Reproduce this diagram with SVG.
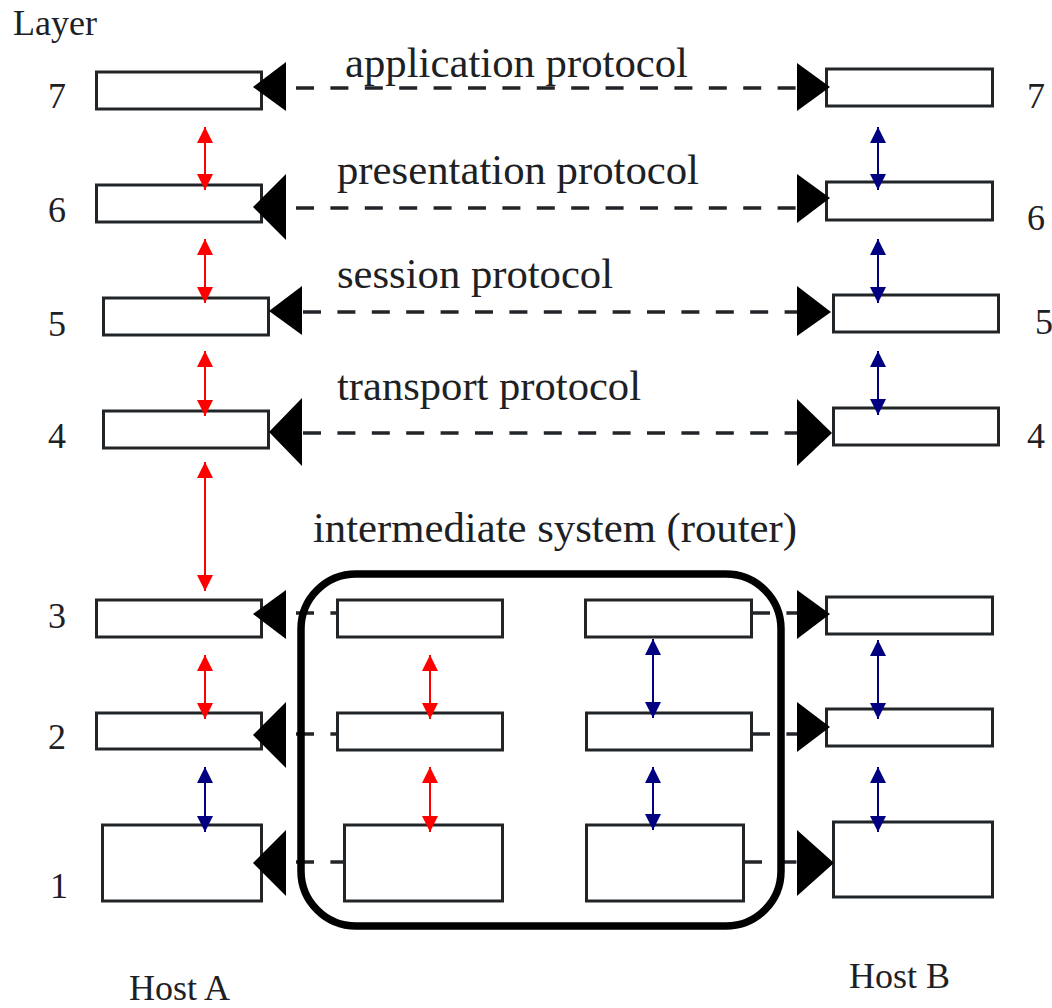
<svg xmlns="http://www.w3.org/2000/svg" width="1052" height="1008" viewBox="0 0 1052 1008">
<defs>
<style>
.box{fill:#fff;stroke:#222528;stroke-width:3}
.lbl{font-family:"Liberation Serif","Times New Roman",serif;fill:#1e2124}
.num{font-size:36px}
.proto{font-size:42px}
.dash{stroke:#222528;stroke-width:3.5;stroke-dasharray:18 16.4;fill:none}
.tri{fill:#000}
.red{stroke:#ff0000;stroke-width:2;marker-start:url(#hr);marker-end:url(#hr)}
.blue{stroke:#000080;stroke-width:2;marker-start:url(#hb);marker-end:url(#hb)}
.router{fill:none;stroke:#000;stroke-width:7.5}
</style>
<marker id="hr" viewBox="0 0 16 16" refX="16" refY="8" markerWidth="16" markerHeight="16" markerUnits="userSpaceOnUse" orient="auto-start-reverse"><path d="M0,0 L16,8 L0,16 z" fill="#ff0000"/></marker>
<marker id="hb" viewBox="0 0 16 16" refX="16" refY="8" markerWidth="16" markerHeight="16" markerUnits="userSpaceOnUse" orient="auto-start-reverse"><path d="M0,0 L16,8 L0,16 z" fill="#000080"/></marker>
</defs>
<rect width="1052" height="1008" fill="#fff"/>

<g id="labels" class="lbl">
<text x="13" y="35" class="num">Layer</text>
<text x="48" y="108" class="num">7</text>
<text x="48" y="222" class="num">6</text>
<text x="48" y="336" class="num">5</text>
<text x="48" y="448" class="num">4</text>
<text x="48" y="628" class="num">3</text>
<text x="48" y="749" class="num">2</text>
<text x="50" y="898" class="num">1</text>
<text x="1027" y="108" class="num">7</text>
<text x="1027" y="230" class="num">6</text>
<text x="1035" y="334" class="num">5</text>
<text x="1027" y="448" class="num">4</text>
<text x="129" y="1000" class="num">Host A</text>
<text x="849" y="988" class="num">Host B</text>
<text x="345" y="77" class="proto" textLength="343" lengthAdjust="spacingAndGlyphs">application protocol</text>
<text x="337" y="184" class="proto" textLength="362" lengthAdjust="spacingAndGlyphs">presentation protocol</text>
<text x="337" y="288" class="proto" textLength="276" lengthAdjust="spacingAndGlyphs">session protocol</text>
<text x="337" y="400" class="proto" textLength="304" lengthAdjust="spacingAndGlyphs">transport protocol</text>
<text x="313" y="542" class="proto" textLength="484" lengthAdjust="spacingAndGlyphs">intermediate system (router)</text>
</g>

<g id="hostA">
<rect id="A7" class="box" x="96.5" y="72" width="165" height="37"/>
<rect id="A6" class="box" x="96.5" y="185" width="165" height="37"/>
<rect id="A5" class="box" x="103.5" y="298" width="165" height="37"/>
<rect id="A4" class="box" x="103.5" y="411" width="165" height="37"/>
<rect id="A3" class="box" x="96.5" y="600" width="165" height="37"/>
<rect id="A2" class="box" x="96.5" y="713" width="165" height="36"/>
<rect id="A1" class="box" x="102.5" y="825" width="159" height="76"/>
</g>

<g id="hostB">
<rect id="B7" class="box" x="826.5" y="69" width="166" height="37"/>
<rect id="B6" class="box" x="826.5" y="182" width="166" height="38"/>
<rect id="B5" class="box" x="833.5" y="295" width="165" height="37"/>
<rect id="B4" class="box" x="833.5" y="408" width="165" height="37"/>
<rect id="B3" class="box" x="826.5" y="597" width="166" height="37"/>
<rect id="B2" class="box" x="826.5" y="709" width="166" height="37"/>
<rect id="B1" class="box" x="833.5" y="822" width="159" height="75"/>
</g>

<g id="router">
<rect id="R-L3" class="box" x="337.5" y="600" width="165" height="37"/>
<rect id="R-L2" class="box" x="337.5" y="713" width="165" height="37"/>
<rect id="R-L1" class="box" x="344.5" y="825" width="158" height="76"/>
<rect id="R-R3" class="box" x="585.5" y="600" width="166" height="37"/>
<rect id="R-R2" class="box" x="586.5" y="713" width="165" height="37"/>
<rect id="R-R1" class="box" x="586.5" y="825" width="157" height="76"/>
</g>

<g id="connectors">
<line class="dash" x1="296" y1="88" x2="797" y2="88"/>
<line class="dash" x1="296" y1="208" x2="797" y2="208"/>
<line class="dash" x1="303" y1="312" x2="797" y2="312"/>
<line class="dash" x1="303" y1="433" x2="797" y2="433"/>
<line class="dash" x1="296" y1="613" x2="337" y2="613"/>
<line class="dash" x1="752" y1="613" x2="797" y2="613"/>
<line class="dash" x1="296" y1="734" x2="337" y2="734"/>
<line class="dash" x1="752" y1="734" x2="797" y2="734"/>
<line class="dash" x1="296" y1="862" x2="344" y2="862"/>
<line class="dash" x1="744" y1="862" x2="797" y2="862"/>

<polygon class="tri" points="253,87 286,62 286,111"/>
<polygon class="tri" points="253,207 286,174 286,240"/>
<polygon class="tri" points="269,311 302,286 302,335"/>
<polygon class="tri" points="269,432 302,398 302,466"/>
<polygon class="tri" points="253,614 286,590 286,639"/>
<polygon class="tri" points="253,735 286,702 286,768"/>
<polygon class="tri" points="253,863 286,830 286,896"/>

<polygon class="tri" points="830,87 797,63 797,111"/>
<polygon class="tri" points="830,198 797,174 797,223"/>
<polygon class="tri" points="831,312 797,286 797,336"/>
<polygon class="tri" points="832,433 797,399 797,466"/>
<polygon class="tri" points="830,614 797,590 797,639"/>
<polygon class="tri" points="830,727 797,702 797,752"/>
<polygon class="tri" points="834,863 797,830 797,896"/>

<line class="red" x1="205" y1="127" x2="205" y2="190"/>
<line class="red" x1="205" y1="239" x2="205" y2="303"/>
<line class="red" x1="205" y1="351" x2="205" y2="416"/>
<line class="red" x1="205" y1="462" x2="205" y2="591"/>
<line class="red" x1="205" y1="655" x2="205" y2="719"/>
<line class="blue" x1="205" y1="767" x2="205" y2="832"/>

<line class="red" x1="430" y1="655" x2="430" y2="719"/>
<line class="red" x1="430" y1="767" x2="430" y2="832"/>
<line class="blue" x1="653" y1="639" x2="653" y2="718"/>
<line class="blue" x1="653" y1="767" x2="653" y2="830"/>

<line class="blue" x1="878" y1="127" x2="878" y2="190"/>
<line class="blue" x1="878" y1="239" x2="878" y2="303"/>
<line class="blue" x1="878" y1="351" x2="878" y2="415"/>
<line class="blue" x1="878" y1="640" x2="878" y2="719"/>
<line class="blue" x1="878" y1="767" x2="878" y2="832"/>
</g>

<g id="router-frame-group">
<rect id="router-frame" class="router" x="301" y="574" width="480" height="352" rx="55" ry="55"/>
</g>
</svg>
